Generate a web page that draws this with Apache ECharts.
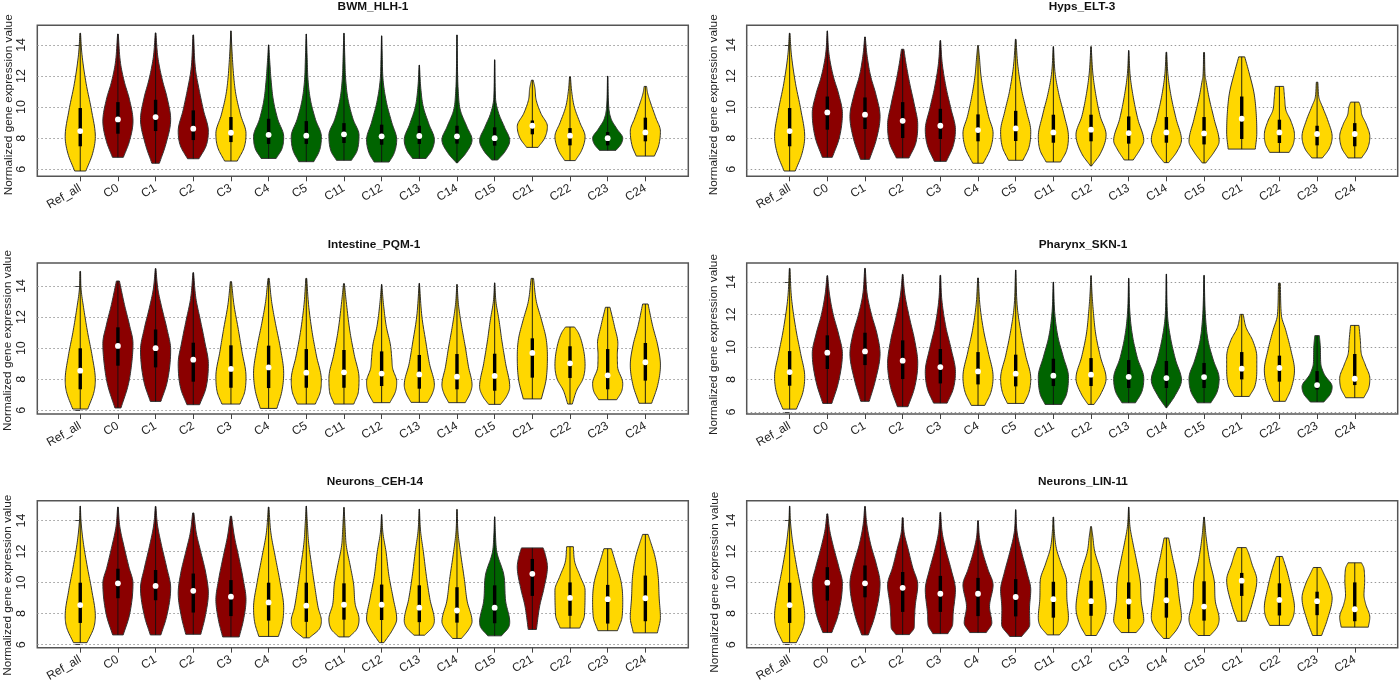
<!DOCTYPE html>
<html><head><meta charset="utf-8">
<style>html,body{margin:0;padding:0;background:#fff}#c{width:1400px;height:684px}</style>
<script src="https://cdn.jsdelivr.net/npm/echarts@6/dist/echarts.min.js"></script>
</head><body><div id="c"></div>
<script>
const categories = ['Ref_all','C0','C1','C2','C3','C4','C5','C11','C12','C13','C14','C15','C21','C22','C23','C24'];
const panelTitles = ['BWM_HLH-1','Hyps_ELT-3','Intestine_PQM-1','Pharynx_SKN-1','Neurons_CEH-14','Neurons_LIN-11'];
const yTicks = [6,8,10,12,14];
const yMin = [5.55,5.55,5.76,5.88,5.81,5.81];
const yMax = [15.26,15.26,15.48,15.17,15.27,15.27];

// group per cluster: Y = gold, R = dark red, G = dark green
const groupBwm = ['Y','R','R','R','Y','G','G','G','G','G','G','G','Y','Y','G','Y'];
const groupHyps = ['Y','R','R','R','R','Y','Y','Y','Y','Y','Y','Y','Y','Y','Y','Y'];
const groupInt = ['Y','R','R','R','Y','Y','Y','Y','Y','Y','Y','Y','Y','Y','Y','Y'];
const groupPha = ['Y','R','R','R','R','Y','Y','G','Y','G','G','G','Y','Y','G','Y'];
const groupCeh = ['Y','R','R','R','R','Y','Y','Y','Y','Y','Y','G','R','Y','Y','Y'];
const groupLin = ['Y','R','R','R','R','R','R','Y','Y','Y','Y','Y','Y','Y','Y','Y'];

const q1Bwm = [7.48,8.29,8.46,7.88,7.75,7.63,7.63,7.69,7.58,7.63,7.65,7.52,8.25,7.54,7.54,7.8];
const medBwm = [8.46,9.21,9.36,8.61,8.35,8.22,8.16,8.25,8.12,8.14,8.12,8.0,8.8,8.16,8.0,8.37];
const q3Bwm = [9.94,10.32,10.47,9.79,9.36,9.25,9.1,8.97,8.87,8.8,8.8,8.7,9.14,8.65,8.4,9.32];
const q1Hyps = [7.48,8.55,8.59,8.01,7.95,7.8,7.82,7.71,7.8,7.65,7.71,7.6,7.95,7.69,7.54,7.48];
const medHyps = [8.46,9.66,9.51,9.12,8.8,8.52,8.63,8.37,8.55,8.33,8.37,8.31,9.25,8.37,8.27,8.27];
const q3Hyps = [9.94,10.68,10.62,10.32,9.89,9.53,9.76,9.51,9.51,9.4,9.36,9.36,10.68,9.19,8.8,8.97];
const q1Int = [7.35,8.87,8.76,7.84,7.45,7.43,7.45,7.45,7.56,7.39,7.35,7.26,8.1,8.08,7.35,7.91];
const medInt = [8.55,10.14,10.0,9.26,8.66,8.76,8.42,8.44,8.36,8.31,8.16,8.21,9.69,9.02,8.25,9.09];
const q3Int = [9.99,11.34,11.2,10.35,10.18,10.16,9.94,9.88,9.79,9.56,9.62,9.64,10.63,10.12,9.94,10.33];
const q1Pha = [7.62,8.65,8.89,8.03,7.76,7.7,7.58,7.6,7.6,7.48,7.48,7.48,8.01,7.87,7.39,7.66];
const medPha = [8.46,9.65,9.73,9.16,8.77,8.5,8.36,8.24,8.3,8.17,8.09,8.15,8.67,8.71,7.66,8.05];
const q3Pha = [9.75,10.72,10.88,10.41,9.88,9.69,9.53,9.28,9.32,9.2,9.14,9.02,9.69,9.47,8.52,9.57];
const q1Ceh = [7.4,8.99,8.86,8.07,7.84,7.55,7.47,7.61,7.59,7.45,7.42,7.38,9.14,7.86,7.36,7.51];
const medCeh = [8.55,9.95,9.78,9.47,9.09,8.72,8.51,8.57,8.57,8.38,8.2,8.38,10.56,9.01,8.93,8.99];
const q3Ceh = [9.99,10.89,10.81,10.58,10.16,9.99,9.99,9.95,9.87,9.82,9.7,9.82,11.52,10.01,9.85,10.45];
const q1Lin = [7.4,8.84,9.05,8.11,8.11,7.84,7.82,7.74,7.86,7.66,7.74,7.55,9.14,7.88,7.9,7.51];
const medLin = [8.55,9.99,9.95,9.66,9.28,9.28,9.07,8.93,8.8,8.78,8.86,8.45,10.12,8.88,8.8,8.28];
const q3Lin = [9.99,10.99,11.1,10.68,10.43,10.3,10.22,10.05,10.12,10.01,10.28,10.08,10.62,9.95,9.41,10.01];

// density outline of each violin, bottom to top: [expression value, relative half width]
const shapeBwm = [
 [[5.89,.37],[7,.78],[8.1,1],[9.8,.7],[11.5,.32],[13.4,.07],[14.75,.02]],
 [[6.77,.36],[7.8,.72],[9.1,1],[10.5,.72],[11.6,.36],[12.8,.12],[14.7,.02]],
 [[6.39,.25],[7.6,.62],[9.2,1],[10.6,.72],[11.8,.36],[13.2,.1],[14.77,.02]],
 [[6.68,.38],[7.5,.82],[8.45,1],[9.8,.62],[11,.34],[12.4,.1],[14.64,.02]],
 [[6.53,.42],[7.4,.85],[8.3,1],[9.5,.58],[10.8,.26],[11.8,.14],[13.6,.04],[14.9,.01]],
 [[6.7,.5],[7.3,.85],[8.1,1],[9.2,.55],[10.4,.25],[11.6,.12],[13,.04],[14,.01]],
 [[6.49,.5],[7.2,.85],[8.1,1],[9.2,.55],[10.4,.22],[11.6,.08],[13.2,.03],[14.7,.01]],
 [[6.58,.5],[7.2,.85],[8.2,1],[9.2,.55],[10.5,.2],[11.8,.07],[13.2,.03],[14.75,.01]],
 [[6.47,.5],[7,.78],[7.9,1],[9,.62],[10.3,.25],[11.7,.06],[13.2,.02],[14.58,.01]],
 [[6.7,.45],[7.2,.78],[7.9,1],[8.9,.58],[10,.2],[11.2,.06],[12.7,.01]],
 [[6.41,.03],[7,.5],[7.9,1],[8.7,.62],[9.8,.16],[11,.05],[12.6,.015],[14.64,.01]],
 [[6.6,.2],[7.1,.6],[7.85,1],[8.7,.6],[9.6,.2],[10.6,.03],[13.04,.01]],
 [[7.41,.38],[8,.78],[8.76,1],[9.6,.5],[10.5,.18],[11.2,.12],[11.73,.06]],
 [[6.56,.35],[7.2,.72],[8.1,1],[9,.6],[10,.22],[11,.07],[11.95,.03]],
 [[7.22,.55],[7.6,.85],[8,1],[8.6,.55],[9.2,.18],[10,.04],[11.99,.01]],
 [[6.85,.6],[7.5,.85],[8.45,1],[9.3,.65],[10.2,.3],[10.9,.1],[11.33,.08]]
];
const shapeHyps = [
 [[5.89,.37],[7,.78],[8.1,1],[9.8,.7],[11.5,.32],[13.4,.07],[14.75,.02]],
 [[6.77,.33],[8,.75],[9.6,1],[10.8,.72],[12,.32],[13.4,.07],[14.9,.01]],
 [[6.64,.3],[7.9,.7],[9.4,1],[10.8,.68],[12,.3],[13.4,.08],[14.51,.02]],
 [[6.73,.42],[7.7,.85],[8.87,1],[10.2,.72],[11.5,.4],[12.8,.16],[13.72,.08]],
 [[6.51,.4],[7.5,.82],[8.55,1],[9.9,.65],[11.2,.32],[12.8,.08],[14.28,.02]],
 [[6.39,.35],[7.3,.78],[8.33,1],[9.4,.65],[10.6,.36],[12,.14],[13.3,.05],[13.96,.02]],
 [[6.58,.48],[7.4,.85],[8.44,1],[9.7,.68],[11,.34],[12.6,.1],[14.36,.02]],
 [[6.47,.48],[7.2,.85],[8.1,1],[9.5,.66],[10.8,.3],[12.1,.08],[13.89,.01]],
 [[6.21,.03],[7,.55],[8.22,1],[9.4,.55],[10.6,.28],[12,.09],[13.89,.01]],
 [[6.6,.3],[7.3,.72],[7.85,1],[9.2,.55],[10.6,.24],[12,.06],[13.64,.01]],
 [[6.43,.15],[7.1,.62],[7.9,1],[9.2,.6],[10.6,.26],[12,.07],[13.53,.02]],
 [[6.41,.12],[7.1,.6],[7.8,1],[9.2,.62],[10.6,.26],[11.7,.08],[12,.04],[13.51,.03]],
 [[7.3,.9],[8.33,1],[9.6,.95],[10.9,.78],[12.2,.42],[13.23,.2]],
 [[7.09,.65],[7.6,.9],[8.22,1],[9.1,.72],[9.8,.36],[10.5,.28],[11.33,.28]],
 [[6.73,.35],[7.3,.75],[8.1,1],[9.1,.68],[10.1,.25],[10.6,.08],[11.6,.05]],
 [[6.73,.45],[7.3,.8],[8.1,1],[8.9,.72],[9.5,.4],[10,.32],[10.32,.28]]
];
const shapeInt = [
 [[6.08,.5],[7.2,.9],[7.95,1],[9.5,.75],[11,.42],[12.6,.16],[13.8,.03],[14.94,.02]],
 [[6.15,.2],[7.6,.62],[8.9,.88],[10.3,1],[11.5,.72],[12.8,.36],[14.32,.1]],
 [[6.57,.35],[7.8,.72],[9.9,1],[11.2,.72],[12.6,.34],[13.8,.1],[15.12,.02]],
 [[6.36,.42],[7.4,.8],[9,1],[10.4,.72],[11.8,.4],[13.2,.12],[14.86,.02]],
 [[6.4,.6],[7.2,.9],[8.16,1],[9.8,.68],[11.2,.42],[12.8,.14],[14.28,.04]],
 [[6.12,.55],[7.2,.85],[8.38,1],[10,.74],[11.6,.38],[13,.14],[14.49,.04]],
 [[6.4,.6],[7.2,.92],[7.95,1],[9.5,.62],[11,.32],[12.8,.1],[14.49,.03]],
 [[6.4,.65],[7.2,.95],[8.05,1],[9.6,.62],[11.1,.32],[13,.1],[14.15,.03]],
 [[6.49,.55],[7.2,.9],[7.84,1],[8.7,.68],[9.3,.62],[10.2,.52],[11.4,.24],[12.8,.08],[14.1,.01]],
 [[6.51,.55],[7.1,.85],[7.63,1],[9,.62],[10.4,.36],[12,.12],[14.17,.01]],
 [[6.49,.55],[7.1,.85],[7.63,1],[8.8,.72],[10,.5],[11.4,.24],[12.8,.06],[14.1,.01]],
 [[6.38,.4],[6.9,.75],[7.52,1],[9,.68],[10.4,.42],[11.8,.22],[13,.05],[14.2,.01]],
 [[6.73,.6],[8,.9],[9.45,1],[10.6,.9],[11.8,.55],[13,.2],[14.49,.08]],
 [[6.4,.15],[7.3,.38],[8,.82],[8.91,1],[10,.85],[11,.48],[11.36,.3]],
 [[6.68,.6],[7.2,.9],[7.73,1],[8.8,.6],[9.6,.58],[10.3,.62],[11.4,.38],[12.63,.15]],
 [[6.45,.42],[7.6,.78],[8.91,1],[10.2,.78],[11.4,.42],[12.84,.18]]
];
const shapePha = [
 [[6.18,.45],[7.2,.85],[8.17,1],[9.6,.68],[11,.36],[13,.08],[14.84,.02]],
 [[6.53,.3],[7.8,.68],[9.6,1],[10.8,.7],[12,.32],[13.2,.1],[14.39,.02]],
 [[6.66,.28],[7.9,.62],[9.6,1],[10.8,.76],[12,.36],[13.2,.1],[14.84,.02]],
 [[6.33,.35],[7.5,.75],[9,1],[10.4,.76],[11.8,.38],[13.2,.1],[14.47,.02]],
 [[6.55,.45],[7.4,.82],[8.48,1],[9.9,.66],[11.2,.3],[12.9,.06],[14.41,.02]],
 [[6.41,.45],[7.2,.82],[8.17,1],[9.7,.62],[11,.3],[12.6,.08],[14.25,.02]],
 [[6.53,.55],[7.2,.85],[8.07,1],[9.5,.6],[11,.26],[12.4,.07],[14.74,.01]],
 [[6.47,.55],[7.1,.85],[8.17,1],[9.4,.6],[10.6,.24],[12,.06],[14,.01]],
 [[6.47,.2],[7.1,.58],[8.07,1],[9.4,.56],[10.8,.24],[12.2,.1],[13.2,.04],[14.39,.01]],
 [[6.57,.45],[7.2,.82],[8.07,1],[9.3,.52],[10.6,.2],[12,.05],[14.23,.01]],
 [[6.27,.03],[7,.5],[7.97,1],[9.2,.55],[10.6,.2],[12,.04],[14.49,.01]],
 [[6.57,.45],[7.2,.82],[8.07,1],[9.2,.55],[10.4,.2],[11.8,.06],[14.41,.01]],
 [[6.96,.5],[7.6,.85],[8.6,1],[9.4,1],[10.4,.68],[11.2,.22],[12.01,.1]],
 [[6.66,.4],[7.4,.72],[8.58,1],[9.8,.72],[11,.36],[12,.08],[13.92,.06]],
 [[6.62,.45],[7.1,.85],[7.56,1],[8.3,.42],[9,.18],[10.1,.15],[10.7,.15]],
 [[6.88,.6],[7.5,.92],[8.07,1],[8.9,.65],[9.6,.36],[10.4,.3],[11.33,.28]]
];
const shapeCeh = [
 [[6.13,.45],[7.1,.88],[7.86,1],[9.5,.72],[11,.4],[12.6,.14],[13.9,.03],[14.92,.01]],
 [[6.63,.35],[7.9,.72],[9.95,1],[11,.68],[12.2,.36],[13.6,.08],[14.86,.02]],
 [[6.63,.35],[7.8,.68],[9.64,1],[11,.68],[12.4,.32],[13.7,.08],[14.9,.02]],
 [[6.67,.5],[7.8,.75],[9.32,1],[10.6,.8],[12,.42],[13.2,.14],[14.48,.04]],
 [[6.5,.55],[7.6,.8],[8.9,1],[10.2,.78],[11.6,.46],[13,.16],[14.27,.04]],
 [[6.53,.65],[7.4,.9],[8.38,1],[10,.72],[11.6,.38],[13.2,.1],[14.86,.02]],
 [[6.44,.2],[7.03,.85],[7.55,1],[8.38,.75],[9.6,.52],[11,.3],[12.6,.1],[13.8,.04],[14.92,.01]],
 [[6.5,.35],[7,.82],[7.65,1],[8.6,.7],[9.9,.58],[11,.36],[12.4,.1],[13.4,.05],[14.84,.01]],
 [[6.13,.15],[7,.7],[7.65,1],[9,.72],[10.4,.42],[12,.22],[13.2,.05],[14.38,.01]],
 [[6.61,.35],[7.1,.82],[7.55,1],[8.9,.66],[10.4,.4],[12,.2],[13.3,.05],[14.73,.01]],
 [[6.4,.3],[7,.75],[7.5,1],[8.8,.62],[10.2,.42],[12,.16],[13.2,.04],[14.71,.01]],
 [[6.57,.45],[7.1,.9],[7.45,1],[8.8,.68],[10.47,.55],[11.93,.1],[13,.03],[14.23,.01]],
 [[6.98,.27],[8.5,.42],[9.6,.72],[11,1],[11.9,.8],[12.23,.72]],
 [[7.07,.65],[7.9,.95],[9.5,1],[10.4,.62],[11.3,.25],[12.31,.22]],
 [[6.9,.65],[7.8,.95],[8.8,1],[10,.88],[11.2,.48],[12.18,.25]],
 [[6.76,.8],[7.76,1],[9,.9],[10.4,.82],[11.6,.6],[12.6,.28],[13.1,.18]]
];
const shapeLin = [
 [[6.13,.45],[7.1,.88],[7.86,1],[9.5,.72],[11,.4],[12.6,.14],[13.9,.03],[14.92,.01]],
 [[6.78,.3],[7.9,.66],[9.95,1],[11,.72],[12.2,.36],[13.4,.1],[14.42,.03]],
 [[6.63,.22],[7.8,.58],[9.95,1],[11.2,.7],[12.4,.32],[13.7,.08],[14.9,.02]],
 [[6.65,.45],[7.1,.72],[7.76,.75],[8.5,.8],[9.85,1],[11,.6],[12.2,.28],[13.2,.06],[14.17,.03]],
 [[6.71,.5],[7.3,.78],[8,.82],[9.53,1],[10.8,.68],[12,.32],[13.2,.08],[14.52,.02]],
 [[6.78,.55],[7.4,.9],[8.45,.72],[9.85,1],[10.8,.62],[11.8,.28],[12.9,.06],[13.98,.02]],
 [[6.53,.4],[7.3,.92],[8.3,.9],[9.53,1],[10.6,.72],[11.8,.36],[13.2,.06],[14.69,.01]],
 [[6.63,.4],[7.2,.85],[7.76,1],[8.9,.88],[10.1,.85],[11.2,.45],[12.2,.14],[13.4,.03],[14.21,.02]],
 [[6.59,.35],[7.3,.7],[8.38,1],[9.6,.82],[10.8,.55],[12,.18],[13,.07],[13.6,.03]],
 [[6.78,.5],[7.2,.82],[7.55,1],[8.8,.8],[10.1,.72],[11.4,.45],[12.6,.2],[13.6,.05],[14.86,.01]],
 [[6.4,.2],[7,.65],[7.76,1],[9,.82],[10.4,.62],[11.6,.34],[12.87,.15]],
 [[6.59,.4],[7.1,.82],[7.65,1],[8.8,.7],[10.1,.62],[11.4,.3],[12.8,.1],[14.21,.02]],
 [[7.51,.3],[8.6,.62],[10.16,1],[11.2,.62],[11.9,.38],[12.25,.3]],
 [[7.24,.65],[7.8,.9],[8.38,1],[9.6,.75],[10.8,.42],[11.68,.2]],
 [[6.59,.3],[7.6,.62],[9,1],[9.9,.72],[10.6,.36],[10.97,.25]],
 [[7.13,.9],[7.76,1],[8.6,.68],[9.2,.55],[10.1,.6],[10.9,.55],[11.27,.45]]
];

const colors = {Y:'#FFD700', R:'#8B0000', G:'#006400'};
const HALF = 0.4;
const FULL = 0.82; // outline fullness of interior knots when drawn
const panels = [
 {g:groupBwm,q1:q1Bwm,m:medBwm,q3:q3Bwm,s:shapeBwm,left:37.3,top:25.3,gap:21.5,shift:4,tx:368,ty:-4},
 {g:groupHyps,q1:q1Hyps,m:medHyps,q3:q3Hyps,s:shapeHyps,left:746.7,top:25.3,gap:26.5,shift:4,tx:1077,ty:-4},
 {g:groupInt,q1:q1Int,m:medInt,q3:q3Int,s:shapeInt,left:37.3,top:263,gap:23.5,shift:2,tx:369,ty:234},
 {g:groupPha,q1:q1Pha,m:medPha,q3:q3Pha,s:shapePha,left:746.7,top:263,gap:27,shift:6,tx:1078,ty:234},
 {g:groupCeh,q1:q1Ceh,m:medCeh,q3:q3Ceh,s:shapeCeh,left:37.3,top:500.7,gap:23.5,shift:11,tx:370,ty:471},
 {g:groupLin,q1:q1Lin,m:medLin,q3:q3Lin,s:shapeLin,left:746.7,top:500.7,gap:26,shift:8,tx:1078,ty:471}
];

function outline(src){
  // smooth monotone drawing of the read knots, value -> relative half width
  const n=src.length, t=new Array(n), out=[];
  const k=src.map((d,i)=>(i===0||i===n-1)?d:[d[0],Math.pow(d[1],FULL)]);
  const sec=[]; for(let i=0;i<n-1;i++) sec.push((k[i+1][1]-k[i][1])/(k[i+1][0]-k[i][0]));
  t[0]=sec[0]; t[n-1]=sec[n-2];
  for(let i=1;i<n-1;i++){
    if(sec[i-1]*sec[i]<=0){t[i]=0;continue;}
    const a=(sec[i-1]+sec[i])/2, lim=2.5*Math.min(Math.abs(sec[i-1]),Math.abs(sec[i]));
    t[i]=Math.sign(a)*Math.min(Math.abs(a),lim);
  }
  for(let i=0;i<n-1;i++){
    const h=k[i+1][0]-k[i][0];
    for(let j=0;j<10;j++){
      const u=j/10,u2=u*u,u3=u2*u;
      const w=(2*u3-3*u2+1)*k[i][1]+(u3-2*u2+u)*h*t[i]+(-2*u3+3*u2)*k[i+1][1]+(u3-u2)*h*t[i+1];
      out.push([k[i][0]+u*h,Math.max(w,0.005)]);
    }
  }
  out.push(k[n-1]);
  return out;
}

function makeRender(p){
  return function(params,api){
    const x=api.value(0), q1=api.value(1), m=api.value(2), q3=api.value(3);
    const prof=outline(p.s[x]);
    const r=prof.map(d=>api.coord([x+HALF*d[1],d[0]]));
    const l=prof.map(d=>api.coord([x-HALF*d[1],d[0]])).reverse();
    const lo=api.coord([x,p.s[x][0][0]]), hi=api.coord([x,p.s[x][p.s[x].length-1][0]]);
    const a=api.coord([x,q1]), b=api.coord([x,q3]), c=api.coord([x,m]);
    return {type:'group',children:[
      {type:'polygon',shape:{points:r.concat(l)},style:{fill:colors[p.g[x]],stroke:'#333',lineWidth:1}},
      {type:'line',shape:{x1:lo[0],y1:lo[1],x2:hi[0],y2:hi[1]},style:{stroke:'#111',lineWidth:.9}},
      {type:'line',shape:{x1:a[0],y1:a[1],x2:b[0],y2:b[1]},style:{stroke:'#000',lineWidth:3.4}},
      {type:'circle',shape:{cx:c[0],cy:c[1],r:2.9},style:{fill:'#fff'}}
    ]};
  };
}

const labelFont='"Liberation Sans", Arial, sans-serif';
const option={
  animation:false, backgroundColor:'#fff',
  title:panels.map((p,i)=>({text:panelTitles[i],left:p.tx,top:p.ty,textAlign:'center',
    textStyle:{fontFamily:labelFont,fontWeight:'bold',fontSize:11.8,color:'#111'}})),
  grid:panels.map(p=>({left:p.left,top:p.top,width:651,height:151,show:true,borderColor:'#555',borderWidth:1.5,backgroundColor:'#fff',containLabel:false})),
  xAxis:panels.map((p,i)=>({gridIndex:i,type:'value',min:-1.14,max:16.14,
    axisLine:{show:false},splitLine:{show:false},
    axisTick:{show:true,length:5,lineStyle:{color:'#444',width:1},customValues:categories.map((c,k)=>k)},
    axisLabel:{customValues:categories.map((c,k)=>k),formatter:v=>categories[v],rotate:30,margin:11,
      fontFamily:labelFont,fontSize:12,color:'#222',hideOverlap:false,showMinLabel:true,showMaxLabel:true}})),
  yAxis:panels.map((p,i)=>({gridIndex:i,type:'value',min:yMin[i],max:yMax[i],
    name:'Normalized gene expression value',nameLocation:'middle',nameGap:p.gap,
    nameTextStyle:{fontFamily:labelFont,fontSize:11.8,color:'#222',padding:[0,2*p.shift,0,0]},
    axisLine:{show:false},
    axisTick:{show:true,length:5,lineStyle:{color:'#444',width:1},customValues:yTicks},
    axisLabel:{customValues:yTicks,rotate:90,margin:9,fontFamily:labelFont,fontSize:12.5,color:'#222'},
    splitLine:{show:true,lineStyle:{color:'#999',type:[1.5,2.5],width:1}}})),
  series:panels.map((p,i)=>({type:'custom',coordinateSystem:'cartesian2d',xAxisIndex:i,yAxisIndex:i,
    clip:false,encode:{x:0,y:[1,2,3]},
    data:categories.map((c,k)=>[k,p.q1[k],p.m[k],p.q3[k]]),
    renderItem:makeRender(p)}))
};
echarts.init(document.getElementById('c'),null,{renderer:'canvas'}).setOption(option);
</script></body></html>
